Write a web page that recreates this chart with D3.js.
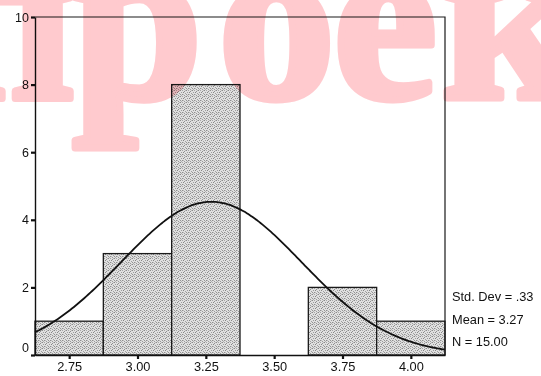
<!DOCTYPE html>
<html>
<head>
<meta charset="utf-8">
<script src="https://cdn.jsdelivr.net/npm/d3@7"></script>
<style>
  html, body { margin: 0; padding: 0; background: #fff; }
  svg { display: block; }
  text { font-family: "Liberation Sans", Arial, sans-serif; fill: #111; }
</style>
</head>
<body>
<svg id="chart" width="541" height="376"></svg>
<script>
// Histogram data: bin midpoints and frequencies
const binCenters = [2.75, 3.00, 3.25, 3.50, 3.75, 4.00];
const counts = [1, 3, 8, 0, 2, 1];
const binWidth = 0.25;

// Axis ticks
const yTicks = [0, 2, 4, 6, 8, 10];
const xTickValues = [2.75, 3.00, 3.25, 3.50, 3.75, 4.00];
const xTickLabels = ["2.75", "3.00", "3.25", "3.50", "3.75", "4.00"];

// Summary statistics shown beside the plot
const stdDev = 0.33;
const mean = 3.27;
const nCases = 15;
const statLabels = ["Std. Dev = .33", "Mean = 3.27", "N = 15.00"];

const watermark = "проек";

const svg = d3.select("#chart");
const W = 541, H = 376;
const m = { left: 35, right: 96, top: 17, bottom: 21 };

const x = d3.scaleLinear()
  .domain([binCenters[0] - binWidth / 2, binCenters[binCenters.length - 1] + binWidth / 2])
  .range([m.left, W - m.right]);
const y = d3.scaleLinear().domain([0, 10]).range([H - m.bottom, m.top]);

svg.append("rect").attr("width", W).attr("height", H).attr("fill", "#fff");

// Stippled halftone fill for the bars (fixed dot layout in a 6x6 tile)
const defs = svg.append("defs");
const pat = defs.append("pattern")
  .attr("id", "stipple").attr("patternUnits", "userSpaceOnUse")
  .attr("width", 6).attr("height", 6);
pat.append("rect").attr("width", 6).attr("height", 6).attr("fill", "#e0e0e0");
const dots = [
  [0, 0, "#8a8a8a"], [2, 0, "#a6a6a6"], [4, 1, "#909090"], [1, 2, "#9c9c9c"],
  [3, 2, "#858585"], [5, 3, "#a0a0a0"], [0, 4, "#949494"], [2, 4, "#8e8e8e"],
  [4, 5, "#9a9a9a"], [5, 0, "#b8b8b8"], [1, 5, "#b0b0b0"], [3, 4, "#bcbcbc"]
];
dots.forEach(([px, py, c]) => pat.append("rect").attr("x", px).attr("y", py)
  .attr("width", 1).attr("height", 1).attr("fill", c));

// Bars
svg.append("g").selectAll("rect")
  .data(binCenters.map((c, i) => ({ c, n: counts[i] })).filter(d => d.n > 0))
  .join("rect")
  .attr("x", d => x(d.c - binWidth / 2))
  .attr("y", d => y(d.n))
  .attr("width", d => x(d.c + binWidth / 2) - x(d.c - binWidth / 2))
  .attr("height", d => y(0) - y(d.n))
  .attr("fill", "url(#stipple)")
  .attr("stroke", "#1a1a1a")
  .attr("stroke-width", 1.3);

// Fitted normal curve scaled to counts per bin
const [x0, x1] = x.domain();
const scaleK = nCases * binWidth / (stdDev * Math.sqrt(2 * Math.PI));
const curvePts = d3.range(0, 201).map(i => {
  const xv = x0 + (x1 - x0) * i / 200;
  const z = (xv - mean) / stdDev;
  return [xv, scaleK * Math.exp(-0.5 * z * z)];
});
svg.append("path")
  .datum(curvePts)
  .attr("d", d3.line().x(d => x(d[0])).y(d => y(d[1])).curve(d3.curveBasis))
  .attr("fill", "none").attr("stroke", "#111").attr("stroke-width", 1.8);

// Frame: top and right edges
svg.append("path")
  .attr("d", `M${x(x0)},${y(10)}H${x(x1)}V${y(0)}`)
  .attr("fill", "none").attr("stroke", "#1a1a1a").attr("stroke-width", 1.2);

// Y axis
const gy = svg.append("g").attr("transform", `translate(${m.left},0)`)
  .call(d3.axisLeft(y).tickValues(yTicks).tickSize(4).tickSizeOuter(0).tickPadding(2)
    .tickFormat(d3.format("d")));
gy.select(".domain").attr("stroke", "#111").attr("stroke-width", 1.4);
gy.selectAll(".tick line").attr("stroke", "#111").attr("stroke-width", 2.2);
gy.selectAll(".tick text").style("font-size", "12.5px").style("font-family", null)
  .attr("fill", "#111")
  .attr("dy", d => d === 0 ? "-0.25em" : "0.32em");

// X axis
const gx = svg.append("g").attr("transform", `translate(0,${y(0)})`)
  .call(d3.axisBottom(x).tickValues(xTickValues).tickSize(4).tickSizeOuter(0).tickPadding(3)
    .tickFormat((d, i) => xTickLabels[i]));
gx.select(".domain").attr("stroke", "#111").attr("stroke-width", 1.4);
gx.selectAll(".tick line").attr("stroke", "#111").attr("stroke-width", 2.2);
gx.selectAll(".tick text").style("font-size", "12.8px").style("font-family", null).attr("fill", "#111");

// Statistics block
svg.append("g").selectAll("text")
  .data(statLabels)
  .join("text")
  .attr("x", x(x1) + 7)
  .attr("y", (d, i) => y(1.72) + i * 22.5)
  .attr("dy", "0.35em")
  .style("font-size", "12.8px")
  .text(d => d);

// Watermark across the top, partly cut by the upper edge; one origin per glyph
svg.append("text")
  .attr("x", [-59, 72, 218, 333, 442].join(" "))
  .attr("y", 98)
  .style("font-family", "'Liberation Serif', 'DejaVu Serif', serif")
  .style("font-weight", "bold")
  .style("font-size", "235px")
  .style("fill", "#ffcace")
  .style("stroke", "#ffcace")
  .style("stroke-width", 7)
  .style("stroke-linejoin", "round")
  .style("mix-blend-mode", "multiply")
  .text(watermark);
</script>
</body>
</html>
